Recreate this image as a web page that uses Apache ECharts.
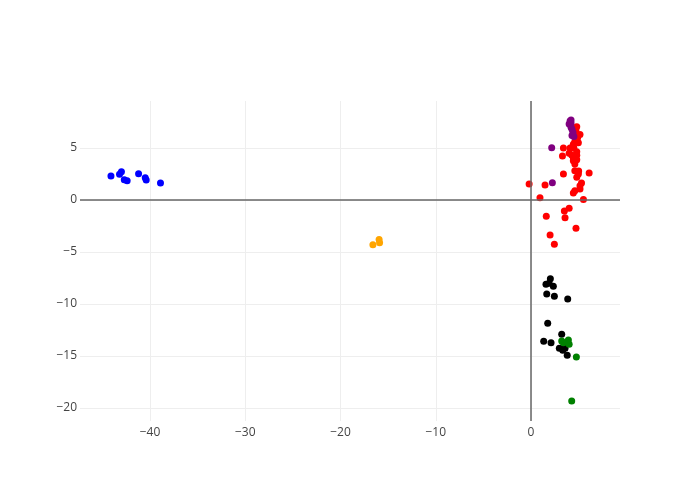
<!DOCTYPE html>
<html>
<head>
<meta charset="utf-8">
<script src="https://cdn.jsdelivr.net/npm/echarts@6/dist/echarts.min.js"></script>
<style>html,body{margin:0;padding:0;background:#fff}#c{width:700px;height:500px}</style>
</head>
<body>
<div id="c"></div>
<script>
var xTicks = [-40, -30, -20, -10, 0];
var yTicks = [-20, -15, -10, -5, 0, 5];

var bluePts = [[-44.1,2.31],[-43.2,2.47],[-43.0,2.72],[-42.7,1.95],[-42.4,1.86],[-41.2,2.53],[-40.5,2.14],[-40.4,1.92],[-38.9,1.63]];
var orangePts = [[-16.6,-4.3],[-15.95,-3.8],[-15.9,-4.1]];
var redPts = [[-0.2,1.54],[0.94,0.22],[1.47,1.44],[1.6,-1.57],[2.0,-3.37],[2.45,-4.26],[3.5,-1.06],[3.57,-1.7],[4.0,-0.8],[4.72,-2.72],[5.5,0.05],[4.44,0.67],[4.6,0.9],[5.14,1.38],[5.3,1.63],[5.14,1.05],[4.8,2.18],[4.97,2.5],[4.6,2.82],[5.0,2.8],[3.4,2.5],[6.1,2.6],[4.6,3.46],[4.44,3.78],[4.8,3.88],[4.44,4.07],[4.27,4.33],[4.8,4.65],[4.1,5.0],[3.4,5.0],[3.3,4.23],[4.6,5.6],[4.97,5.5],[4.44,5.35],[4.9,6.0],[5.14,6.3],[4.8,7.05],[4.7,6.7],[4.5,6.4],[4.0,4.5],[4.8,4.3],[4.5,5.0]];
var purplePts = [[4.1,7.6],[4.2,7.4],[4.0,7.3],[4.2,7.0],[4.3,6.8],[4.4,6.5],[4.3,6.2],[4.5,6.1],[4.2,7.7],[2.17,5.03],[2.24,1.67]];
var blackPts = [[2.03,-7.57],[1.57,-8.1],[2.34,-8.3],[1.9,-8.0],[1.65,-9.04],[2.45,-9.26],[3.85,-9.52],[1.75,-11.86],[3.22,-12.9],[1.33,-13.59],[2.1,-13.72],[2.97,-14.26],[3.4,-14.13],[3.33,-14.45],[3.57,-14.26],[3.5,-14.0],[3.8,-14.93]];
var greenPts = [[3.22,-13.56],[3.92,-13.46],[4.0,-13.88],[3.4,-13.72],[4.76,-15.1],[4.27,-19.33]];

var groups = [
  {data: bluePts, color: '#0000ff'},
  {data: orangePts, color: '#ffa500'},
  {data: redPts, color: '#ff0000'},
  {data: purplePts, color: '#800080'},
  {data: blackPts, color: '#000000'},
  {data: greenPts, color: '#008000'}
];

var font = '"Open Sans", "Noto Sans", sans-serif';
var series = groups.map(function (g) {
  return {
    type: 'scatter', data: g.data, symbolSize: 7,
    itemStyle: {color: g.color, opacity: 1},
    emphasis: {disabled: true}, animation: false
  };
});
series.unshift({
  type: 'scatter', data: [], silent: true, animation: false,
  markLine: {
    silent: true, symbol: 'none', animation: false,
    label: {show: false},
    lineStyle: {color: '#666', width: 1.5, type: 'solid', opacity: 1},
    emphasis: {disabled: true},
    data: [{xAxis: 0}, {yAxis: 0}]
  }
});

var chart = echarts.init(document.getElementById('c'), null, {renderer: 'canvas'});
chart.setOption({
  backgroundColor: '#fff',
  animation: false,
  grid: {left: 80, right: 80, top: 101, bottom: 79, containLabel: false},
  xAxis: {
    type: 'value', min: -47.35, max: 9.34,
    axisLine: {show: false}, axisTick: {show: false, customValues: xTicks},
    axisLabel: {customValues: xTicks, color: '#444', fontFamily: font, fontSize: 12, margin: 6,
      formatter: function (v) { return String(v).replace('-', '\u2212'); }},
    splitLine: {show: true, lineStyle: {color: '#eee', width: 1}}
  },
  yAxis: {
    type: 'value', min: -21.25, max: 9.52,
    axisLine: {show: false}, axisTick: {show: false, customValues: yTicks},
    axisLabel: {customValues: yTicks, color: '#444', fontFamily: font, fontSize: 12, margin: 3,
      formatter: function (v) { return String(v).replace('-', '\u2212'); }},
    splitLine: {show: true, lineStyle: {color: '#eee', width: 1}}
  },
  series: series
});
</script>
</body>
</html>
